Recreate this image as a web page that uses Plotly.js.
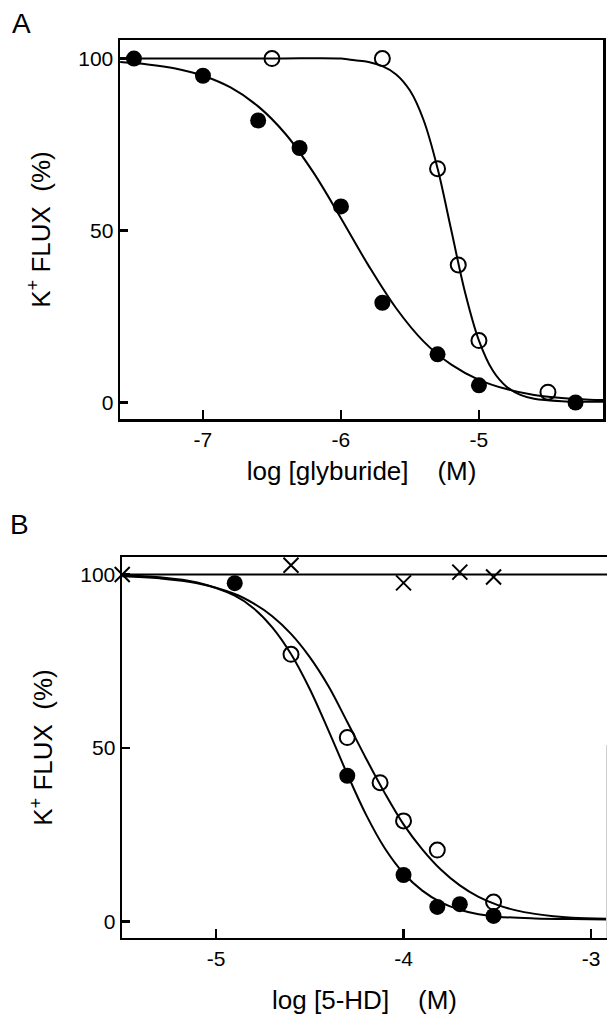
<!DOCTYPE html>
<html>
<head>
<meta charset="utf-8">
<script src="https://cdn.plot.ly/plotly-3.0.1.min.js"></script>
<style>html,body{margin:0;padding:0;background:#fff;}#chart{width:608px;height:1018px;}</style>
</head>
<body>
<div id="chart"></div>
<script>
// ---------- Panel A: glyburide ----------
const aFilledX = [-7.5, -7.0, -6.6, -6.3, -6.0, -5.7, -5.3, -5.0, -4.3];
const aFilledY = [100, 95, 82, 74, 57, 29, 14, 5, 0];
const aOpenX = [-6.5, -5.7, -5.3, -5.15, -5.0, -4.5];
const aOpenY = [100, 100, 68, 40, 18, 3];
const aFilledCurveX = [-7.6, -7.4, -7.2, -7.0, -6.8, -6.6, -6.4, -6.2, -6.0, -5.8, -5.6, -5.4, -5.2, -5.0, -4.8, -4.6, -4.4, -4.2, -4.1];
const aFilledCurveY = [99.0, 98.3, 97.1, 95.0, 91.6, 86.1, 78.0, 66.9, 53.6, 39.8, 27.4, 17.7, 11.0, 6.6, 3.9, 2.2, 1.3, 0.8, 0.7];
const aOpenCurveX = [-7.6, -6.5, -6.0, -5.9, -5.8, -5.7, -5.6, -5.5, -5.4, -5.3, -5.2, -5.1, -5.0, -4.9, -4.8, -4.7, -4.6, -4.4, -4.1];
const aOpenCurveY = [100, 100, 100, 99.5, 99.0, 97.8, 95.4, 90.7, 82.0, 68.1, 50.0, 31.9, 18.0, 9.3, 4.6, 2.2, 1.1, 0.4, 0.2];
const aXTicks = [-7, -6, -5];

// ---------- Panel B: 5-HD ----------
const bCrossX = [-5.5, -4.6, -4.0, -3.7, -3.52];
const bCrossY = [100, 102.7, 97.6, 100.7, 99.3];
const bFilledX = [-4.9, -4.3, -4.0, -3.82, -3.7, -3.52];
const bFilledY = [97.5, 42, 13.4, 4.2, 5, 1.6];
const bOpenX = [-4.6, -4.3, -4.125, -4.0, -3.82, -3.52];
const bOpenY = [77, 53, 40, 29, 20.6, 5.6];
const bFlatX = [-5.5, -2.915];
const bFlatY = [100, 100];
const bFilledCurveX = [-5.5, -5.3, -5.1, -4.9, -4.8, -4.7, -4.6, -4.5, -4.4, -4.3, -4.2, -4.1, -4.0, -3.9, -3.8, -3.7, -3.6, -3.5, -3.3, -3.1, -2.915];
const bFilledCurveY = [99.7, 99.2, 97.7, 93.9, 90.3, 84.8, 77.1, 67.0, 55.0, 42.5, 30.8, 21.1, 13.9, 8.9, 5.5, 3.4, 2.1, 1.4, 0.9, 0.7, 0.6];
const bOpenCurveX = [-5.5, -5.3, -5.1, -4.9, -4.8, -4.7, -4.6, -4.5, -4.4, -4.3, -4.2, -4.1, -4.0, -3.9, -3.8, -3.7, -3.6, -3.5, -3.4, -3.3, -3.2, -3.1, -2.915];
const bOpenCurveY = [99.5, 98.9, 97.5, 94.4, 91.7, 88.0, 82.9, 76.2, 67.8, 57.5, 47.0, 37.0, 28.0, 20.8, 14.9, 10.4, 7.1, 4.8, 3.2, 2.2, 1.5, 1.1, 0.8];
const bXTicks = [-5, -4, -3];

const yTicks = [0, 50, 100];

const FONT = 'Liberation Sans, Arial, sans-serif';
const lineStyle = {color: '#000', width: 2, shape: 'spline', smoothing: 1};
const filledMarker = {symbol: 'circle', size: 16, color: '#000'};
const openMarker = {symbol: 'circle-open', size: 15, color: '#000', line: {width: 2, color: '#000'}};
const crossMarker = {symbol: 'x-thin-open', size: 15, color: '#000', line: {width: 2, color: '#000'}};

const traces = [
  {x: aFilledCurveX, y: aFilledCurveY, mode: 'lines', line: lineStyle, xaxis: 'x', yaxis: 'y', hoverinfo: 'skip'},
  {x: aOpenCurveX, y: aOpenCurveY, mode: 'lines', line: lineStyle, xaxis: 'x', yaxis: 'y', hoverinfo: 'skip'},
  {x: aFilledX, y: aFilledY, mode: 'markers', marker: filledMarker, xaxis: 'x', yaxis: 'y', cliponaxis: false},
  {x: aOpenX, y: aOpenY, mode: 'markers', marker: openMarker, xaxis: 'x', yaxis: 'y', cliponaxis: false},

  {x: bFlatX, y: bFlatY, mode: 'lines', line: {color: '#000', width: 2}, xaxis: 'x2', yaxis: 'y2', hoverinfo: 'skip'},
  {x: bFilledCurveX, y: bFilledCurveY, mode: 'lines', line: lineStyle, xaxis: 'x2', yaxis: 'y2', hoverinfo: 'skip'},
  {x: bOpenCurveX, y: bOpenCurveY, mode: 'lines', line: lineStyle, xaxis: 'x2', yaxis: 'y2', hoverinfo: 'skip'},
  {x: bCrossX, y: bCrossY, mode: 'markers', marker: crossMarker, xaxis: 'x2', yaxis: 'y2', cliponaxis: false},
  {x: bFilledX, y: bFilledY, mode: 'markers', marker: filledMarker, xaxis: 'x2', yaxis: 'y2', cliponaxis: false},
  {x: bOpenX, y: bOpenY, mode: 'markers', marker: openMarker, xaxis: 'x2', yaxis: 'y2', cliponaxis: false}
];

function xAxis(domain, range, ticks, title, anchor, standoff) {
  return {
    domain: domain, range: range, anchor: anchor,
    tickmode: 'array', tickvals: ticks, ticktext: ticks.map(String),
    ticks: 'inside', ticklen: 9, tickwidth: 2.5, tickcolor: '#000',
    showline: true, linewidth: 2.5, linecolor: '#000', mirror: true,
    showgrid: false, zeroline: false,
    tickfont: {family: FONT, size: 21, color: '#000'},
    title: {text: title, font: {family: FONT, size: 26, color: '#000'}, standoff: standoff}
  };
}
function yAxis(domain, range, anchor, mirror) {
  return {
    domain: domain, range: range, anchor: anchor,
    tickmode: 'array', tickvals: yTicks, ticktext: yTicks.map(String),
    ticks: 'inside', ticklen: 8, tickwidth: 2.5, tickcolor: '#000',
    showline: true, linewidth: 2.5, linecolor: '#000', mirror: mirror,
    showgrid: false, zeroline: false,
    tickfont: {family: FONT, size: 21, color: '#000'},
    title: {text: 'K<sup>+</sup> FLUX\u00a0\u00a0(%)', font: {family: FONT, size: 26, color: '#000'}, standoff: 20}
  };
}

const layout = {
  width: 608, height: 1018,
  margin: {l: 0, r: 0, t: 0, b: 0},
  paper_bgcolor: '#fff', plot_bgcolor: '#fff',
  showlegend: false,
  xaxis: xAxis([0.1974, 0.9918], [-7.601, -4.101], aXTicks, 'log [glyburide]\u00a0\u00a0\u00a0\u00a0(M)', 'y', 12),
  yaxis: yAxis([0.5884, 0.9607], [-4.8, 105.4], 'x', true),
  xaxis2: xAxis([0.2007, 0.9984], [-5.501, -2.915], bXTicks, 'log [5-HD]\u00a0\u00a0\u00a0\u00a0(M)', 'y2', 22),
  yaxis2: yAxis([0.0786, 0.4528], [-4.75, 105.04], 'x2', false),
  shapes: [
    {type: 'line', xref: 'paper', yref: 'paper', x0: 606.5 / 608, x1: 606.5 / 608, y0: 1 - 938 / 1018, y1: 1 - 745 / 1018, line: {color: '#d0d0d0', width: 1}}
  ],
  annotations: [
    {text: 'A', x: 10 / 608, y: 1 - 6 / 1018, xref: 'paper', yref: 'paper', xanchor: 'left', yanchor: 'top', showarrow: false, font: {family: FONT, size: 28, color: '#000'}},
    {text: 'B', x: 8 / 608, y: 1 - 507 / 1018, xref: 'paper', yref: 'paper', xanchor: 'left', yanchor: 'top', showarrow: false, font: {family: FONT, size: 28, color: '#000'}}
  ]
};

Plotly.newPlot('chart', traces, layout, {staticPlot: true, displayModeBar: false});
</script>
</body>
</html>
